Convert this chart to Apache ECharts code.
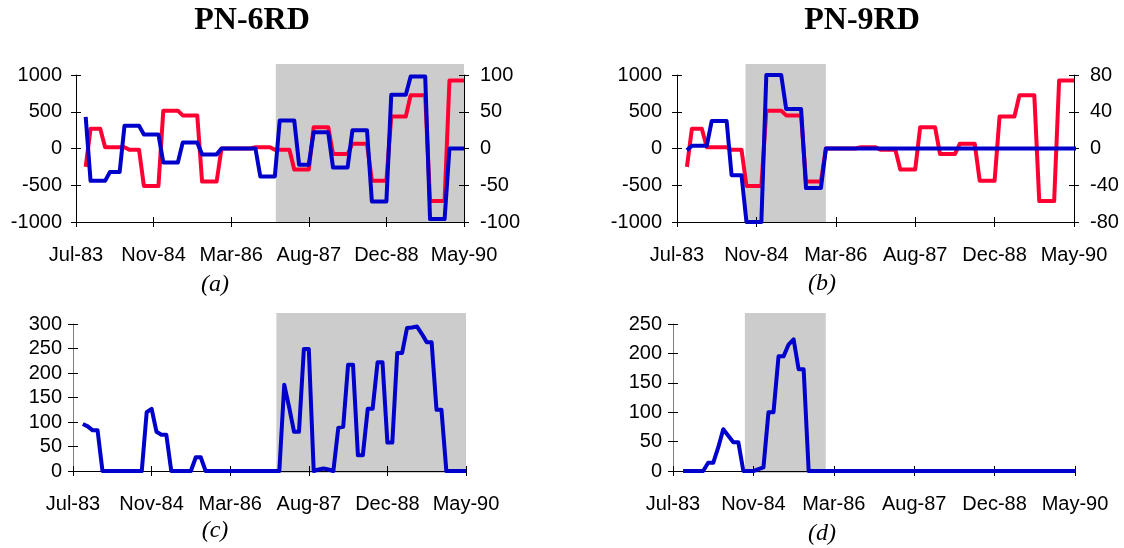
<!DOCTYPE html>
<html><head><meta charset="utf-8">
<script src="https://cdn.jsdelivr.net/npm/echarts@6/dist/echarts.min.js"></script>
<style>html,body{margin:0;padding:0;background:#fff}#c{width:1124px;height:548px}</style>
</head><body><div id="c"></div>
<script>
// ---- data ----
const tickLabels = ['Jul-83', 'Nov-84', 'Mar-86', 'Aug-87', 'Dec-88', 'May-90'];
const monthStep = 16;      // months between labelled ticks (axis runs 0..80)
const firstMonth = 2;      // month index of first data point (0 = Jul-83)

// red series (left axis, panels a and b)
const redVals = [-250, 270, 270, 270, 18, 18, 18, 18, 18, -18, -18, -18,
  -510, -510, -510, -510, 515, 515, 515, 515, 450, 450, 450, 450,
  -450, -450, -450, -450, 0, 0, 0, 0, 0, 0, 0, 18, 18, 18, 18,
  -18, -18, -18, -18, -285, -285, -285, -285, 290, 290, 290, 290,
  -75, -75, -75, -75, 65, 65, 65, 65, -440, -440, -440, -440,
  435, 435, 435, 435, 725, 725, 725, 725, -715, -715, -715, -715,
  925, 925, 925, 925];

// blue series panel a (right axis, ±100)
const blueA = [43, -44, -44, -44, -44, -32, -32, -32, 31, 31, 31, 31,
  19, 19, 19, 19, -19, -19, -19, -19, 8, 8, 8, 8, -8, -8, -8, -8,
  0, 0, 0, 0, 0, 0, 0, 0, -38, -38, -38, -38, 38, 38, 38, 38,
  -22, -22, -22, 22, 22, 22, 22, -26, -26, -26, -26, 25, 25, 25, 25,
  -72, -72, -72, -72, 73, 73, 73, 73, 98, 98, 98, 98, -96, -96, -96, -96,
  0, 0, 0, 0];

// blue series panel b (right axis, ±80)
const blueB = [-2, 3, 3, 3, 3, 30, 30, 30, 30, -29, -29, -29,
  -80, -80, -80, -80, 80, 80, 80, 80, 43, 43, 43, 43, -43, -43, -43, -43,
  0, 0, 0, 0, 0, 0, 0, 0, 0, 0, 0, 0, 0, 0, 0, 0, 0, 0, 0, 0, 0, 0, 0, 0, 0, 0, 0,
  0, 0, 0, 0, 0, 0, 0, 0, 0, 0, 0, 0, 0, 0, 0, 0, 0, 0, 0, 0, 0, 0, 0, 0, 0, 0, 0];

// panel c
const blueC = [96, 91, 83, 83, 0, 0, 0, 0, 0, 0, 0, 0, 0,
  120, 127, 80, 74, 74, 0, 0, 0, 0, 0, 28, 28,
  0, 0, 0, 0, 0, 0, 0, 0, 0, 0, 0, 0, 0, 0, 0, 0,
  176, 130, 80, 80, 249, 249, 0, 3, 5, 3, 0,
  88, 90, 217, 217, 32, 32, 127, 127, 222, 222, 58, 58, 241, 241,
  292, 293, 295, 280, 263, 263, 125, 125, 0, 0, 0, 0, 0];

// panel d
const blueD = [0, 0, 0, 0, 0, 14, 14, 40, 71, 60, 49, 49, 0, 0, 0, 3, 6,
  100, 100, 195, 195, 215, 224, 173, 173,
  0, 0, 0, 0, 0, 0, 0, 0, 0, 0, 0, 0, 0, 0, 0, 0, 0, 0, 0, 0, 0, 0, 0, 0, 0, 0, 0,
  0, 0, 0, 0, 0, 0, 0, 0, 0, 0, 0, 0, 0, 0, 0, 0, 0, 0, 0, 0, 0, 0, 0, 0, 0, 0, 0];

// shaded periods (month index from, to)
const shadeA = [41.2, 80];
const shadeB = [13.8, 30];
const shadeC = [41.4, 80];
const shadeD = [14.3, 30.4];

// ---- chart ----
const FONT = 'Liberation Sans';
const RED = '#FF0033', BLUE = '#0000CC', SHADE = '#CCCCCC';
const option = { animation: false, backgroundColor: '#fff', grid: [], xAxis: [], yAxis: [], series: [], graphic: [] };

function toPairs(vals) { return vals.map((v, i) => [firstMonth + i, v]); }

function addPanel(p) {
  // shaded band grid (slightly taller than the plot)
  const gB = option.grid.push({ left: p.rect.left, right: p.rect.right, top: p.band.top, bottom: p.band.bottom }) - 1;
  const xB = option.xAxis.push({ type: 'value', gridIndex: gB, min: 0, max: 80, show: false }) - 1;
  const yB = option.yAxis.push({ type: 'value', gridIndex: gB, min: 0, max: 1, show: false }) - 1;
  option.series.push({ type: 'line', xAxisIndex: xB, yAxisIndex: yB, data: [[0, 0], [80, 0]], symbol: 'none',
    lineStyle: { opacity: 0 }, silent: true, z: 1,
    markArea: { silent: true, itemStyle: { color: SHADE }, label: { show: false },
      data: [[{ xAxis: p.shade[0], yAxis: 0 }, { xAxis: p.shade[1], yAxis: 1 }]] } });

  // main grid
  const g = option.grid.push(Object.assign({}, p.rect)) - 1;
  const x = option.xAxis.push({ type: 'value', gridIndex: g, min: 0, max: 80, interval: monthStep, z: 3,
    axisLine: { onZero: false, lineStyle: { color: '#000', width: 1 } },
    axisTick: { length: 5, lineStyle: { color: '#000' } }, splitLine: { show: false },
    axisLabel: { margin: 23, fontFamily: FONT, fontSize: 20, color: '#000', showMinLabel: true, showMaxLabel: true,
      formatter: v => tickLabels[Math.round(v / monthStep)] } }) - 1;
  const yAxes = [];
  p.yAxes.forEach(ya => {
    yAxes.push(option.yAxis.push({ type: 'value', gridIndex: g, position: ya.position, min: ya.min, max: ya.max,
      interval: ya.interval, z: 3,
      axisLine: { show: true, onZero: false, lineStyle: { color: ya.lineColor || '#000', width: 1 } },
      axisTick: { show: true, length: 5, lineStyle: { color: '#000' } }, splitLine: { show: false },
      axisLabel: { margin: ya.margin, fontFamily: FONT, fontSize: 20, color: '#000', formatter: v => String(v) } }) - 1);
  });
  // duplicate grid for inward ticks (cross-style ticks)
  const gT = option.grid.push(Object.assign({}, p.rect)) - 1;
  option.xAxis.push({ type: 'value', gridIndex: gT, min: 0, max: 80, interval: monthStep, z: 3,
    axisLine: { show: false, onZero: false }, axisLabel: { show: false }, splitLine: { show: false },
    axisTick: { inside: true, length: 5, lineStyle: { color: '#000' } } });
  p.yAxes.forEach(ya => {
    option.yAxis.push({ type: 'value', gridIndex: gT, position: ya.position, min: ya.min, max: ya.max,
      interval: ya.interval, z: 3,
      axisLine: { show: false, onZero: false }, axisLabel: { show: false }, splitLine: { show: false },
      axisTick: { show: true, inside: true, length: 5, lineStyle: { color: '#000' } } });
  });

  p.lines.forEach(l => {
    option.series.push({ type: 'line', xAxisIndex: x, yAxisIndex: yAxes[l.axis], data: toPairs(l.values),
      symbol: 'none', showSymbol: false, z: 5, silent: true,
      lineStyle: { color: l.color, width: 4, join: 'round' } });
  });
}

addPanel({ rect: { left: 76, right: 660, top: 75, bottom: 326 }, band: { top: 64, bottom: 325 }, shade: shadeA,
  yAxes: [{ position: 'left', min: -1000, max: 1000, interval: 500, margin: 14 },
          { position: 'right', min: -100, max: 100, interval: 50, margin: 16 }],
  lines: [{ values: redVals, color: RED, axis: 0 }, { values: blueA, color: BLUE, axis: 1 }] });

addPanel({ rect: { left: 677, right: 50, top: 75, bottom: 326 }, band: { top: 64, bottom: 325 }, shade: shadeB,
  yAxes: [{ position: 'left', min: -1000, max: 1000, interval: 500, margin: 15 },
          { position: 'right', min: -80, max: 80, interval: 40, margin: 16 }],
  lines: [{ values: redVals, color: RED, axis: 0 }, { values: blueB, color: BLUE, axis: 1 }] });

addPanel({ rect: { left: 73, right: 658, top: 324, bottom: 77 }, band: { top: 313, bottom: 75 }, shade: shadeC,
  yAxes: [{ position: 'left', min: 0, max: 300, interval: 50, margin: 11, lineColor: '#808080' }],
  lines: [{ values: blueC, color: BLUE, axis: 0 }] });

addPanel({ rect: { left: 673, right: 49, top: 324, bottom: 77 }, band: { top: 313, bottom: 75 }, shade: shadeD,
  yAxes: [{ position: 'left', min: 0, max: 250, interval: 50, margin: 11, lineColor: '#808080' }],
  lines: [{ values: blueD, color: BLUE, axis: 0 }] });

function txt(t, x, y, font) {
  return { type: 'text', x: x, y: y, z: 10, silent: true,
    style: { text: t, font: font, fill: '#000', align: 'center', verticalAlign: 'middle',
      textAlign: 'center', textVerticalAlign: 'middle' } };
}
const TITLE_FONT = 'bold 32px "Liberation Serif"';
const CAP_FONT = 'italic 24px "Liberation Serif"';
option.graphic = [
  txt('PN-6RD', 252, 21, TITLE_FONT),
  txt('PN-9RD', 862, 21, TITLE_FONT),
  txt('(a)', 215, 285, CAP_FONT),
  txt('(b)', 822, 284, CAP_FONT),
  txt('(c)', 215, 531, CAP_FONT),
  txt('(d)', 822, 534, CAP_FONT)
];

const chart = echarts.init(document.getElementById('c'), null, { renderer: 'canvas' });
chart.setOption(option);
</script>
</body></html>
